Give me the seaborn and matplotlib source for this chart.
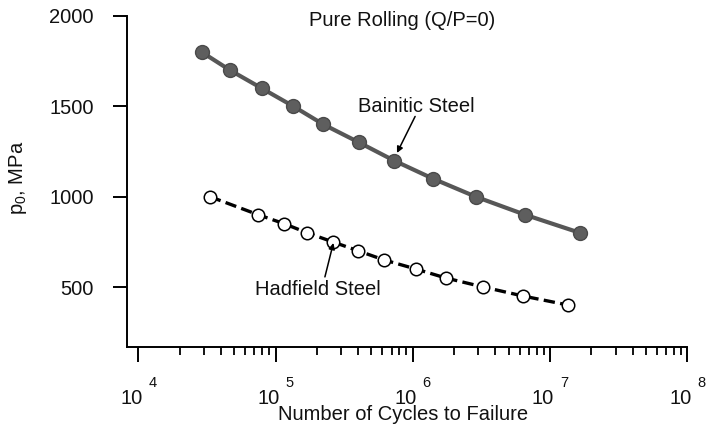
import numpy as np
import pandas as pd
import matplotlib
matplotlib.use("Agg")
import matplotlib.pyplot as plt
import matplotlib.transforms as mtransforms
from matplotlib.ticker import FixedLocator, NullFormatter, FixedFormatter
import seaborn as sns

# ---- data ----
bainitic_cycles = [2.90e4, 4.66e4, 7.93e4, 1.35e5, 2.23e5, 4.06e5, 7.29e5, 1.40e6, 2.87e6, 6.58e6, 1.65e7]
bainitic_p0 = [1800, 1700, 1600, 1500, 1400, 1300, 1200, 1100, 1000, 900, 800]
hadfield_cycles = [3.33e4, 7.48e4, 1.16e5, 1.70e5, 2.61e5, 4.01e5, 6.17e5, 1.05e6, 1.74e6, 3.27e6, 6.38e6, 1.36e7]
hadfield_p0 = [1000, 900, 850, 800, 750, 700, 650, 600, 550, 500, 450, 400]

x_tick_values = [1e4, 1e5, 1e6, 1e7, 1e8]
x_tick_base = ["10", "10", "10", "10", "10"]
x_tick_exponents = ["4", "5", "6", "7", "8"]
y_tick_values = [500, 1000, 1500, 2000]
y_tick_labels = ["500", "1000", "1500", "2000"]

title_text = "Pure Rolling (Q/P=0)"
bainitic_label = "Bainitic Steel"
hadfield_label = "Hadfield Steel"
x_label = "Number of Cycles to Failure"
y_label = r"p$_{\mathrm{0}}$, MPa"

# ---- style ----
sns.set_style("ticks")
plt.rcParams["font.family"] = ["Liberation Sans", "DejaVu Sans"]
plt.rcParams["mathtext.fontset"] = "custom"
plt.rcParams["mathtext.rm"] = "Liberation Sans"
plt.rcParams["mathtext.it"] = "Liberation Sans:italic"
plt.rcParams["mathtext.bf"] = "Liberation Sans:bold"
plt.rcParams["text.color"] = "#111111"
plt.rcParams["axes.labelcolor"] = "#111111"
plt.rcParams["xtick.color"] = "black"
plt.rcParams["ytick.color"] = "black"

FS = 14.5
TXT = "#111111"
fig = plt.figure(figsize=(7.06, 4.25), dpi=100)
ax = fig.add_axes([0.1799, 0.1835, 0.7936, 0.7789])

bain_df = pd.DataFrame({"cycles": bainitic_cycles, "p0": bainitic_p0})
had_df = pd.DataFrame({"cycles": hadfield_cycles, "p0": hadfield_p0})

sns.lineplot(data=bain_df, x="cycles", y="p0", ax=ax, color="#575757",
             linewidth=3.0, marker="o", markersize=10,
             markerfacecolor="#5e5e5e", markeredgecolor="#4a4a4a",
             markeredgewidth=1.0, sort=False, zorder=3)
sns.lineplot(data=had_df, x="cycles", y="p0", ax=ax, color="black",
             linewidth=2.4, linestyle="--", marker="o", markersize=9,
             markerfacecolor="white", markeredgecolor="black",
             markeredgewidth=1.1, sort=False, zorder=3)
ax.lines[1].set_dashes((3.4, 1.6))

ax.set_xscale("log")
ax.set_xlim(10 ** 3.918, 1e8)
ax.set_ylim(168, 2000)

for s in ["top", "right"]:
    ax.spines[s].set_visible(False)
for s in ["left", "bottom"]:
    ax.spines[s].set_linewidth(1.4)
    ax.spines[s].set_color("black")

minor_positions = [m * 10.0 ** e for e in range(4, 8) for m in range(2, 10)]
ax.xaxis.set_major_locator(FixedLocator(x_tick_values))
ax.xaxis.set_major_formatter(FixedFormatter(x_tick_base))
ax.xaxis.set_minor_locator(FixedLocator(minor_positions))
ax.xaxis.set_minor_formatter(NullFormatter())
ax.yaxis.set_major_locator(FixedLocator(y_tick_values))
ax.yaxis.set_major_formatter(FixedFormatter(y_tick_labels))

ax.tick_params(axis="x", which="major", direction="out", length=11, width=1.4,
               pad=19, labelsize=FS, colors="black", labelcolor=TXT)
ax.tick_params(axis="x", which="minor", direction="out", length=6, width=1.3,
               colors="black")
ax.tick_params(axis="y", which="major", direction="out", length=10, width=1.4,
               pad=14, labelsize=FS, colors="black", labelcolor=TXT)

# shift "10" labels slightly left of their ticks, as in the reference
shift = mtransforms.ScaledTranslation(-7 / 100, 0, fig.dpi_scale_trans)
for lab in ax.get_xticklabels():
    lab.set_transform(lab.get_transform() + shift)

# exponents
for v, e in zip(x_tick_values, x_tick_exponents):
    ax.annotate(e, xy=(v, 0), xycoords=("data", "axes fraction"),
                xytext=(14, -36), textcoords="offset pixels",
                ha="center", va="center", fontsize=10.5, color=TXT,
                annotation_clip=False)

ax.set_xlabel(x_label, fontsize=FS, color=TXT)
ax.xaxis.set_label_coords(0.4926, -0.176)
ax.set_ylabel(y_label, fontsize=FS, color=TXT)
ax.yaxis.set_label_coords(-0.175, 0.51)

ax.text(0.491, 0.985, title_text, transform=ax.transAxes, ha="center",
        va="center", fontsize=FS, color=TXT)

ax.text(1.07e6, 1500, bainitic_label, ha="center", va="center", fontsize=FS,
        color=TXT)
ax.annotate("", xy=(7.67e5, 1242), xytext=(1.04e6, 1444),
            arrowprops=dict(arrowstyle="-|>", color="black", lw=1.1,
                            mutation_scale=9, shrinkA=0, shrinkB=0))
ax.text(2.04e5, 485, hadfield_label, ha="center", va="center", fontsize=FS,
        color=TXT)
ax.annotate("", xy=(2.64e5, 744), xytext=(2.29e5, 556),
            arrowprops=dict(arrowstyle="-|>", color="black", lw=1.1,
                            mutation_scale=9, shrinkA=0, shrinkB=0))

leg = ax.get_legend()
if leg is not None:
    leg.remove()

fig.savefig("out.png", dpi=100)
